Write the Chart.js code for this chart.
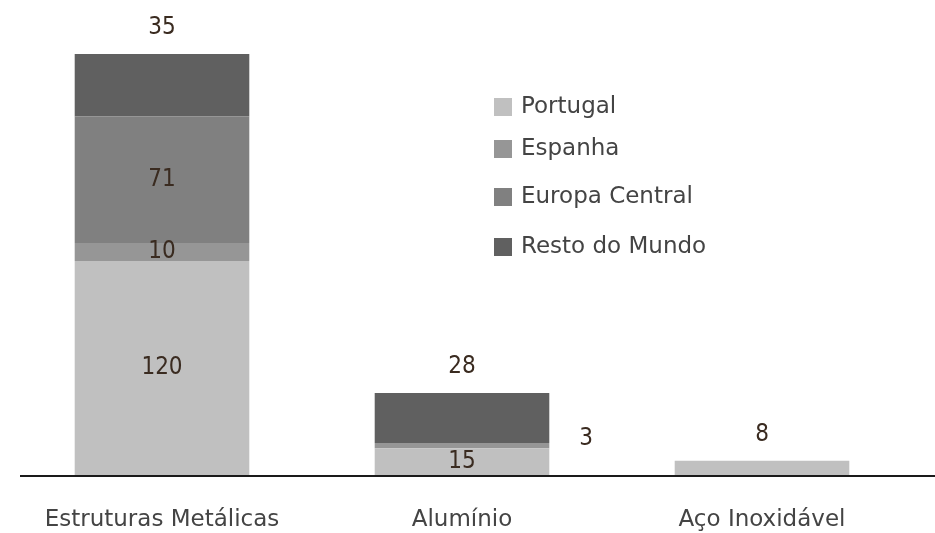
<!DOCTYPE html>
<html>
<head>
<meta charset="utf-8">
<script src="https://cdn.jsdelivr.net/npm/chart.js@4.4.1/dist/chart.umd.min.js"></script>
<style>
  html, body { margin: 0; padding: 0; background: #fff; }
  #wrap { width: 935px; height: 533px; }
</style>
</head>
<body>
<div id="wrap"><canvas id="chart"></canvas></div>
<script>
const categories = ['Estruturas Metálicas', 'Alumínio', 'Aço Inoxidável'];
const portugal = [120, 15, 8];
const espanha = [10, 3, 0];
const europaCentral = [71, 0, 0];
const restoMundo = [35, 28, 0];

const FONT = 'DejaVu Sans';
const NUM_FONT = 'DejaVu Sans Condensed';

// baseline drawn across the full width, like the original
const baseLine = {
  id: 'baseLine',
  afterDatasetsDraw(chart) {
    const ctx = chart.ctx;
    const y = Math.round(chart.scales.y.getPixelForValue(0)) + 1;
    ctx.save();
    ctx.strokeStyle = '#1a1a1a';
    ctx.lineWidth = 2;
    ctx.beginPath();
    ctx.moveTo(20, y);
    ctx.lineTo(chart.width, y);
    ctx.stroke();
    ctx.restore();
  }
};

// value labels: inside the segment, above the stack top, or to the right when too thin
const valueLabels = {
  id: 'valueLabels',
  afterDatasetsDraw(chart) {
    const ctx = chart.ctx;
    const sets = chart.data.datasets;
    ctx.save();
    ctx.font = '24px "' + NUM_FONT + '"';
    ctx.fillStyle = '#3a2b20';
    ctx.textBaseline = 'middle';
    sets.forEach((ds, di) => {
      const meta = chart.getDatasetMeta(di);
      meta.data.forEach((bar, i) => {
        const v = ds.data[i];
        if (!v) return;
        let isTop = true;
        for (let k = di + 1; k < sets.length; k++) if (sets[k].data[i]) isTop = false;
        const h = bar.base - bar.y;
        if (isTop) {
          ctx.textAlign = 'center';
          ctx.fillText(v, bar.x, bar.y - 26);
        } else if (h < 12) {
          ctx.textAlign = 'left';
          ctx.fillText(v, bar.x + bar.width / 2 + 30, bar.y - 4);
        } else {
          ctx.textAlign = 'center';
          ctx.fillText(v, bar.x, (bar.y + bar.base) / 2);
        }
      });
    });
    ctx.restore();
  }
};

// legend drawn inside the plot, one row per series
const sideLegend = {
  id: 'sideLegend',
  afterDraw(chart) {
    const ctx = chart.ctx;
    ctx.save();
    ctx.font = '23px "' + FONT + '"';
    ctx.textBaseline = 'alphabetic';
    ctx.textAlign = 'left';
    const rows = [113, 155, 203, 253];
    chart.data.datasets.forEach((ds, i) => {
      ctx.fillStyle = ds.backgroundColor;
      ctx.fillRect(494, rows[i] - 15, 18, 18);
      ctx.fillStyle = '#444444';
      ctx.fillText(ds.label, 521, rows[i]);
    });
    ctx.restore();
  }
};

new Chart(document.getElementById('chart'), {
  type: 'bar',
  data: {
    labels: categories,
    datasets: [
      { label: 'Portugal', data: portugal, backgroundColor: '#c0c0c0' },
      { label: 'Espanha', data: espanha, backgroundColor: '#969696' },
      { label: 'Europa Central', data: europaCentral, backgroundColor: '#808080' },
      { label: 'Resto do Mundo', data: restoMundo, backgroundColor: '#606060' }
    ]
  },
  options: {
    responsive: true,
    maintainAspectRatio: false,
    animation: false,
    layout: { padding: { left: 12, right: 23, top: 20, bottom: 0 } },
    datasets: { bar: { barPercentage: 0.6, categoryPercentage: 0.97 } },
    plugins: {
      legend: { display: false },
      tooltip: { enabled: false }
    },
    scales: {
      x: {
        stacked: true,
        grid: { display: false, drawTicks: false },
        border: { display: false },
        ticks: { color: '#444444', font: { family: FONT, size: 23 }, padding: 31, maxRotation: 0 },
        afterFit(scale) { scale.height = 58; }
      },
      y: {
        stacked: true,
        display: false,
        min: 0,
        max: 255
      }
    }
  },
  plugins: [baseLine, valueLabels, sideLegend]
});
</script>
</body>
</html>
